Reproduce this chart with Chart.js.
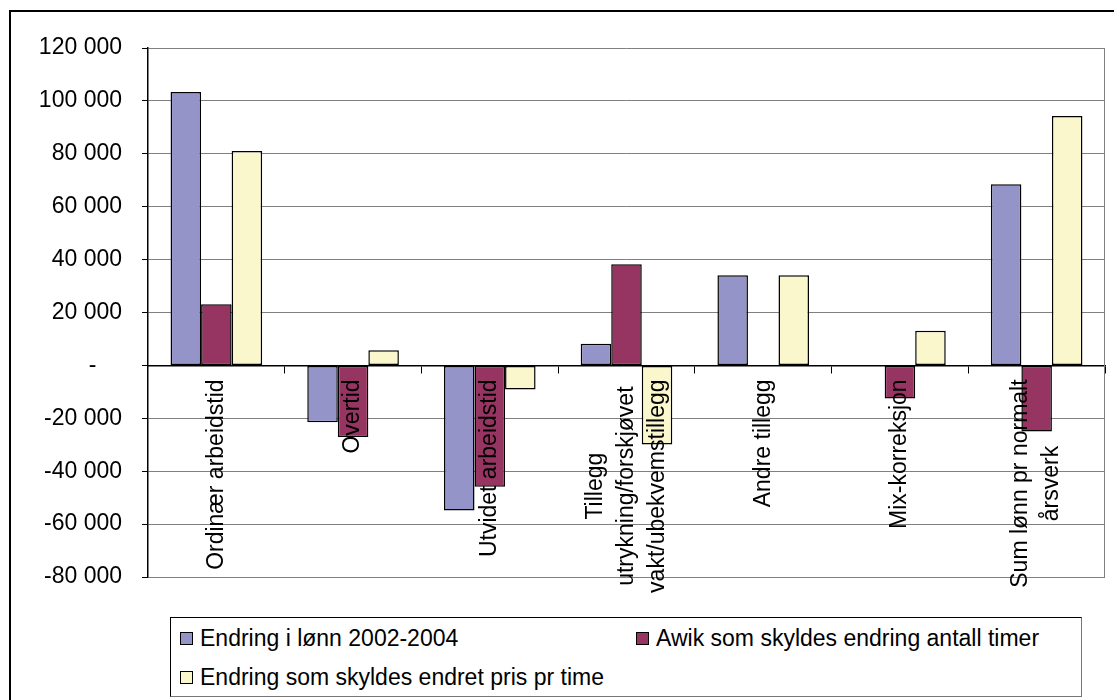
<!DOCTYPE html>
<html><head><meta charset="utf-8">
<script src="https://cdn.jsdelivr.net/npm/chart.js@4/dist/chart.umd.min.js"></script>
<style>
html,body{margin:0;padding:0;background:#fff;overflow:hidden}
#wrap{position:relative;width:1114px;height:700px;font-family:"Liberation Sans",Arial,sans-serif}
#frame{position:absolute;left:9px;top:10px;width:1200px;height:800px;border:2px solid #000;box-sizing:border-box}
#cv{position:absolute;left:0;top:0}
#legend{position:absolute;left:170px;top:617px;width:912px;height:80px;border:1px solid #000;border-right-color:#777;border-bottom-color:#777;box-sizing:border-box;background:#fff}
.li{position:absolute;display:flex;align-items:center;font-size:23px;line-height:23px;color:#000;white-space:nowrap}
.li i{display:inline-block;width:11px;height:11px;border:1.5px solid #000;margin-right:7px}
</style></head>
<body>
<div id="wrap">
  <div id="frame"></div>
  <canvas id="cv" width="1114" height="700"></canvas>
  <div id="legend"></div>
</div>
<script>
const categories=["Ordinær arbeidstid","Overtid","Utvidet arbeidstid",["Tillegg","utrykning/forskjøvet","vakt/ubekvemstillegg"],"Andre tillegg","Mix-korreksjon",["Sum lønn pr normalt","årsverk"]];
const seriesNames=["Endring i lønn 2002-2004","Awik som skyldes endring antall timer","Endring som skyldes endret pris pr time"];
const endringLonn=[103400,-21500,-54900,8200,34100,0,68500];
const avikTimer=[23100,-27100,-45900,38200,0,-12500,-25000];
const endringPris=[81100,5700,-9100,-29900,34100,13100,94300];
const yTicks=[-80000,-60000,-40000,-20000,0,20000,40000,60000,80000,100000,120000];
const colors=["#9494c8","#963462","#faf7cd"];

const FONT='"Liberation Sans", Arial, sans-serif';
const fmt=v=>v===0?"-    ":(v<0?"-":"")+String(Math.abs(v)).replace(/\B(?=(\d{3})+(?!\d))/g," ");

// category labels, rotated and centered line by line like Excel
const catLabels={id:"catLabels",
  afterDatasetsDraw(chart){
    const {ctx,scales:{x,y}}=chart, top=y.getPixelForValue(0)+14, lh=31;
    ctx.save();ctx.font="23px "+FONT;ctx.fillStyle="#000";
    x.getLabels().forEach((lab,i)=>{
      const lines=[].concat(lab);
      const w=Math.max(...lines.map(l=>ctx.measureText(l).width));
      const cx=x.getPixelForValue(i);
      lines.forEach((l,j)=>{
        ctx.save();
        ctx.translate(cx+(j-(lines.length-1)/2)*lh,top+w/2);
        ctx.rotate(-Math.PI/2);
        ctx.textAlign="center";ctx.textBaseline="middle";
        ctx.fillText(l,0,0);
        ctx.restore();
      });
    });
    ctx.restore();
  }};
// gray plot border on the right side
const plotEdge={id:"plotEdge",
  beforeDatasetsDraw(chart){
    const a=chart.chartArea,ctx=chart.ctx;
    ctx.save();ctx.strokeStyle="#808080";ctx.lineWidth=1;
    ctx.beginPath();ctx.moveTo(a.right-0.5,a.top);ctx.lineTo(a.right-0.5,a.bottom);ctx.stroke();
    ctx.restore();
  }};

const ds=[endringLonn,avikTimer,endringPris].map((d,i)=>({label:seriesNames[i],data:d,backgroundColor:colors[i],
  borderColor:"#000",borderWidth:1.5,borderSkipped:false,barPercentage:1,categoryPercentage:0.67}));

const chart=new Chart(document.getElementById("cv").getContext("2d"),{type:"bar",
  data:{labels:categories,datasets:ds},
  options:{responsive:false,animation:false,devicePixelRatio:1,
    layout:{padding:{top:48,bottom:123,right:9,left:0}},
    plugins:{legend:{display:false},tooltip:{enabled:false}},
    scales:{
      x:{position:{y:0},ticks:{display:false},
         grid:{drawOnChartArea:false,drawTicks:true,tickLength:7,tickColor:"#000",offset:true},
         border:{display:true,color:"#000",width:1.5}},
      y:{min:-80000,max:120000,
         afterBuildTicks:s=>{s.ticks=yTicks.map(v=>({value:v}));},
         afterFit:s=>{s.width=148;},
         ticks:{callback:v=>fmt(v),color:"#000",padding:20,font:{family:FONT,size:23}},
         grid:{color:"#808080",lineWidth:1,tickLength:6,tickColor:"#000"},
         border:{color:"#000",width:1.5}}
    }},
  plugins:[plotEdge,catLabels]});

// legend in two columns, built from the chart's datasets
const lg=document.getElementById("legend");
chart.data.datasets.forEach((d,i)=>{
  const el=document.createElement("div");el.className="li";
  el.style.left=(9+(i%2)*456)+"px";el.style.top=(9+Math.floor(i/2)*39)+"px";
  el.innerHTML='<i style="background:'+d.backgroundColor+'"></i><span></span>';
  el.querySelector("span").textContent=d.label;
  lg.appendChild(el);
});
</script>
</body></html>
